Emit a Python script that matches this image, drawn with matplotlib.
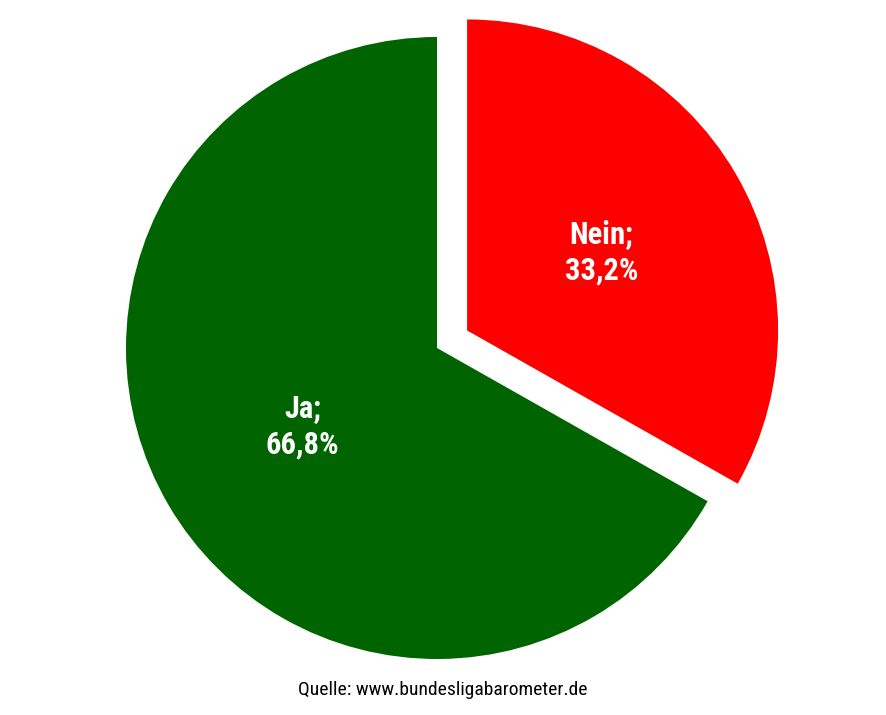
import matplotlib
matplotlib.use("Agg")
import matplotlib.pyplot as plt
from matplotlib import font_manager
import numpy as np

categories = ["Nein", "Ja"]
values = [33.2, 66.8]
value_labels = ["33,2%", "66,8%"]
colors = ["#FF0000", "#006400"]
source = "Quelle: www.bundesligabarometer.de"

names = {f.name for f in font_manager.fontManager.ttflist}
cands = ['Roboto Condensed', 'Liberation Sans Narrow', 'Open Sans Condensed',
         'DejaVu Sans Condensed', 'DejaVu Sans']
fam = [c for c in cands if c in names] or ['DejaVu Sans']
plt.rcParams['font.family'] = fam

fig = plt.figure(figsize=(8.86, 7.15), dpi=100)
ax = fig.add_axes([0, 0, 1, 1])
wedges, texts = ax.pie(values, colors=colors, startangle=90, counterclock=False,
                       explode=[0.112, 0], radius=1.0,
                       wedgeprops=dict(linewidth=0))
for w, cat, lab in zip(wedges, categories, value_labels):
    theta = np.deg2rad((w.theta1 + w.theta2) / 2)
    cx, cy = w.center
    r = 0.5
    ax.text(cx + r * np.cos(theta), cy + r * np.sin(theta), f"{cat};\n{lab}",
            ha="center", va="center", color="white", fontsize=22,
            fontweight="bold", linespacing=1.3, fontstretch="condensed")

scale = 311.0
W, H = 886, 715
cxp, cyp = 437, 348
ax.set_aspect('auto')
ax.set_xlim(-cxp / scale, (W - cxp) / scale)
ax.set_ylim(-(H - cyp) / scale, cyp / scale)
ax.axis('off')

fig.text(443 / W, 1 - 690 / H, source, ha="center", va="center", fontsize=14,
         color="black", fontstretch="condensed")
fig.savefig("out.png", dpi=100, facecolor="white")
